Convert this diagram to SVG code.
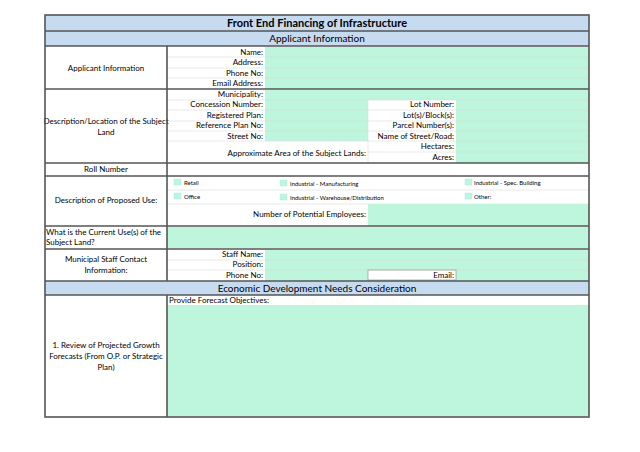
<svg xmlns="http://www.w3.org/2000/svg" width="640" height="452" viewBox="0 0 640 452">
<style>
text{font-family:Lato,"Liberation Sans",sans-serif;font-size:8px;fill:#000}
.r{text-anchor:end}.m{text-anchor:middle}
.g{fill:#bdf6dc}.h{fill:#c6daf0}
.b{fill:none;stroke:#555;stroke-width:1.6}
.t{stroke:#dadada;stroke-width:0.6}
.s{font-size:6px}
.cb{fill:#bdf6dc;stroke:#9ee;stroke-width:0.4}
</style>
<rect width="640" height="452" fill="#fff"/>
<g id="title"><rect class="h" x="45" y="15" width="544" height="16"/><text class="m" x="317" y="27" style="font-size:11px;font-weight:bold">Front End Financing of Infrastructure</text></g>
<g id="hdr1"><rect class="h" x="45" y="31" width="544" height="15"/><text class="m" x="317" y="42" style="font-size:10px">Applicant Information</text></g>
<g id="applicant">
<rect class="g" x="265" y="47" width="324" height="42"/>
<g class="t"><line x1="167" y1="57" x2="589" y2="57"/><line x1="167" y1="68" x2="589" y2="68"/><line x1="167" y1="78" x2="589" y2="78"/></g>
<text class="m" x="106" y="71">Applicant Information</text>
<text class="r" x="263" y="55">Name:</text><text class="r" x="263" y="65">Address:</text><text class="r" x="263" y="76">Phone No:</text><text class="r" x="263" y="86">Email Address:</text>
</g>
<g id="land">
<rect class="g" x="265" y="90" width="324" height="51"/>
<rect x="368" y="100" width="88" height="63" fill="#fff"/>
<rect class="g" x="456" y="141" width="133" height="22"/>
<g class="t"><line x1="167" y1="100" x2="589" y2="100"/><line x1="167" y1="110" x2="589" y2="110"/><line x1="167" y1="121" x2="589" y2="121"/><line x1="167" y1="131" x2="589" y2="131"/><line x1="167" y1="141" x2="589" y2="141"/><line x1="368" y1="152" x2="589" y2="152"/><line x1="368" y1="100" x2="368" y2="163"/></g>
<text class="m" x="106" y="124">Description/Location of the Subject</text><text class="m" x="106" y="135">Land</text>
<text class="r" x="263" y="97">Municipality:</text><text class="r" x="263" y="107">Concession Number:</text><text class="r" x="263" y="118">Registered Plan:</text><text class="r" x="263" y="128">Reference Plan No:</text><text class="r" x="263" y="139">Street No:</text>
<text class="r" x="366" y="156">Approximate Area of the Subject Lands:</text>
<text class="r" x="454" y="107">Lot Number:</text><text class="r" x="454" y="118">Lot(s)/Block(s):</text><text class="r" x="454" y="128">Parcel Number(s):</text><text class="r" x="454" y="139">Name of Street/Road:</text><text class="r" x="454" y="149">Hectares:</text><text class="r" x="454" y="160">Acres:</text>
</g>
<g id="roll"><text class="m" x="106" y="172">Roll Number</text></g>
<g id="use">
<line class="t" x1="167" y1="190" x2="589" y2="190"/><line class="t" x1="167" y1="204" x2="589" y2="204"/>
<rect class="cb" x="174" y="179" width="7" height="6"/><text class="s" x="184" y="185">Retail</text>
<rect class="cb" x="280" y="180" width="7" height="6"/><text class="s" x="290" y="186">Industrial - Manufacturing</text>
<rect class="cb" x="465" y="179" width="7" height="6"/><text class="s" x="474" y="185">Industrial - Spec. Building</text>
<rect class="cb" x="174" y="193" width="7" height="6"/><text class="s" x="184" y="199">Office</text>
<rect class="cb" x="280" y="194" width="7" height="6"/><text class="s" x="290" y="200">Industrial - Warehouse/Distribution</text>
<rect class="cb" x="465" y="193" width="7" height="6"/><text class="s" x="474" y="199">Other:</text>
<rect class="g" x="368" y="204" width="221" height="22"/>
<text class="r" x="366" y="217">Number of Potential Employees:</text>
<text class="m" x="106" y="203">Description of Proposed Use:</text>
</g>
<g id="current"><rect class="g" x="167" y="227" width="422" height="21"/><text x="46" y="235">What is the Current Use(s) of the</text><text x="46" y="245">Subject Land?</text></g>
<g id="staff">
<rect class="g" x="265" y="250" width="324" height="31"/>
<rect x="368" y="270" width="88" height="10" fill="#fff"/>
<g class="t"><line x1="167" y1="260" x2="589" y2="260"/><line x1="167" y1="270" x2="589" y2="270"/></g>
<rect x="368" y="270" width="88" height="10" fill="none" stroke="#888" stroke-width="0.6"/>
<text class="r" x="263" y="257">Staff Name:</text><text class="r" x="263" y="267">Position:</text><text class="r" x="263" y="278">Phone No:</text><text class="r" x="454" y="278">Email:</text>
<text class="m" x="106" y="262">Municipal Staff Contact</text><text class="m" x="106" y="273">Information:</text>
</g>
<g id="hdr2"><rect class="h" x="45" y="281" width="544" height="14"/><text class="m" x="317" y="292" style="font-size:10px">Economic Development Needs Consideration</text></g>
<g id="review">
<rect class="g" x="167" y="305" width="422" height="111"/>
<text x="169" y="303">Provide Forecast Objectives:</text>
<text class="m" x="106" y="348">1. Review of Projected Growth</text><text class="m" x="106" y="359">Forecasts (From O.P. or Strategic</text><text class="m" x="106" y="370">Plan)</text>
</g>
<g id="connectors" class="b">
<rect x="45" y="15" width="544" height="402"/>
<line x1="45" y1="31" x2="589" y2="31"/><line x1="45" y1="46" x2="589" y2="46"/>
<line x1="45" y1="89" x2="589" y2="89"/><line x1="45" y1="163" x2="589" y2="163"/><line x1="45" y1="176" x2="589" y2="176"/>
<line x1="45" y1="226" x2="589" y2="226"/><line x1="45" y1="249" x2="589" y2="249"/><line x1="45" y1="281" x2="589" y2="281"/><line x1="45" y1="295" x2="589" y2="295"/>
<line x1="167" y1="46" x2="167" y2="281"/><line x1="167" y1="295" x2="167" y2="417"/>
</g>
</svg>
